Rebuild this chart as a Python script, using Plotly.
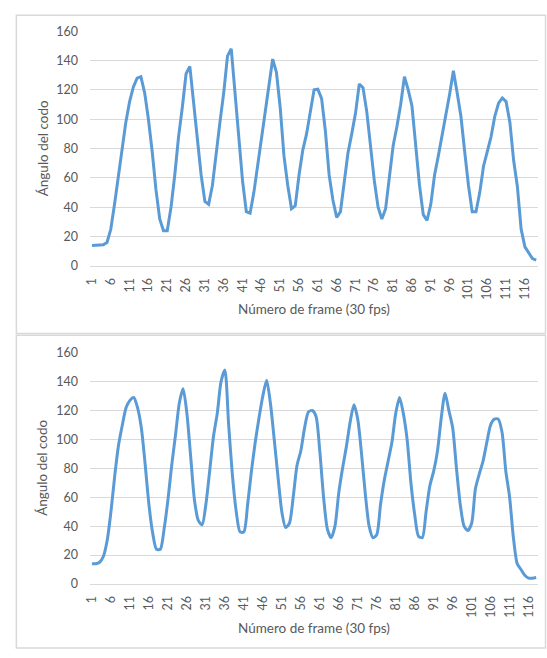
import plotly.graph_objects as go

W, H = 547, 658

# Top chart (raw) values, frames 1..119
top_values = [14, 14, 14, 14.5, 16, 25, 42, 60, 80, 98,
              112, 122, 128, 129, 118, 100, 78, 52, 32, 24,
              24, 40, 62, 88, 108, 131, 136, 112, 88, 62,
              44, 42, 55, 78, 98, 118, 143, 148, 118, 82,
              58, 37, 36, 50, 68, 88, 105, 124, 141, 132,
              108, 75, 55, 39, 41, 62, 79, 90, 105, 120,
              120.5, 114, 92, 62, 45, 33, 37, 58, 77, 90,
              104, 124, 121.5, 105, 82, 58, 40, 32, 39, 60,
              82, 95, 110, 129, 120, 109, 82, 55, 35, 31,
              42, 62, 75, 88, 103, 117, 133, 118, 102, 78,
              55, 37, 37, 50, 68, 78, 88, 102, 111, 114.5,
              112, 98, 72, 54, 25, 13, 9, 5, 4]

# Bottom chart (smoothed) values, frames 1..118
bottom_values = [14, 14, 15, 19, 30, 50, 75, 96, 110, 122,
                 127, 129, 122, 108, 83, 55, 35, 24, 24, 38,
                 58, 82, 103, 125, 135, 118, 88, 58, 44, 41,
                 55, 78, 102, 118, 140, 148, 110, 75, 50, 36,
                 36, 55, 78, 98, 115, 130, 141, 125, 100, 74,
                 50, 39, 42, 60, 82, 92, 108, 119, 120, 116,
                 92, 60, 38, 32, 40, 63, 80, 95, 112, 124,
                 114, 90, 62, 40, 32, 34, 55, 72, 85, 98,
                 118, 129, 118, 100, 70, 48, 33, 32, 50, 68,
                 78, 92, 115, 132, 120, 108, 80, 55, 40, 37,
                 42, 66, 76, 85, 98, 110, 114, 114, 105, 78,
                 60, 32, 14, 10, 6, 4, 4, 4.5]

top_frames = list(range(1, len(top_values) + 1))
bottom_frames = list(range(1, len(bottom_values) + 1))

x_ticks = list(range(1, 117, 5))
y_ticks = list(range(0, 161, 20))

x_title = "Número de frame (30 fps)"
y_title = "Ángulo del codo"

LINE = "#5b9bd5"
GRID = "#d9d9d9"
TXT = "#595959"
FONT = "Lato"

fig = go.Figure()
fig.add_trace(go.Scatter(x=top_frames, y=top_values, mode="lines",
                         line=dict(color=LINE, width=3), xaxis="x", yaxis="y",
                         showlegend=False, hoverinfo="skip"))
fig.add_trace(go.Scatter(x=bottom_frames, y=bottom_values, mode="lines",
                         line=dict(color=LINE, width=3, shape="spline", smoothing=0.7),
                         xaxis="x2", yaxis="y2", showlegend=False, hoverinfo="skip"))

def px_x(p):
    return p / W

def px_y(p):
    return 1 - p / H

xd = [px_x(85), px_x(538)]
top_dom = [px_y(264), px_y(23.7)]
bot_dom = [px_y(589.4), px_y(352.7)]

common_x = dict(tickvals=x_ticks, ticktext=[str(v) for v in x_ticks], tickangle=-90,
                showgrid=False, zeroline=False, showline=True, linecolor=GRID, linewidth=1,
                ticks="", tickfont=dict(family=FONT, size=12.5, color=TXT), ticklabelstandoff=6,
                fixedrange=True)
common_y = dict(range=[0, 160], tickvals=y_ticks, showgrid=True, gridcolor=GRID, gridwidth=1,
                zeroline=False, showline=False, ticks="",
                tickfont=dict(family=FONT, size=12.5, color=TXT), ticklabelstandoff=11,
                fixedrange=True)

fig.update_layout(
    width=W, height=H,
    margin=dict(l=0, r=0, t=0, b=0),
    paper_bgcolor="white", plot_bgcolor="white",
    xaxis=dict(domain=xd, range=[0.5, len(top_values) + 0.5], anchor="y", **common_x),
    yaxis=dict(domain=top_dom, anchor="x", **common_y),
    xaxis2=dict(domain=xd, range=[0.5, len(bottom_values) + 0.5], anchor="y2", **common_x),
    yaxis2=dict(domain=bot_dom, anchor="x2", **common_y),
    shapes=[
        dict(type="rect", xref="paper", yref="paper",
             x0=px_x(10.5), x1=px_x(545.5), y0=px_y(333), y1=px_y(7.5),
             line=dict(color=GRID, width=1.5), fillcolor="rgba(0,0,0,0)", layer="below"),
        dict(type="rect", xref="paper", yref="paper",
             x0=px_x(10.5), x1=px_x(545.5), y0=px_y(655), y1=px_y(335),
             line=dict(color=GRID, width=1.5), fillcolor="rgba(0,0,0,0)", layer="below"),
    ],
    annotations=[
        dict(text=y_title, xref="paper", yref="paper", x=px_x(37), y=px_y(144),
             textangle=-90, showarrow=False, font=dict(family=FONT, size=13.5, color=TXT),
             xanchor="center", yanchor="middle"),
        dict(text=x_title, xref="paper", yref="paper", x=px_x(311.5), y=px_y(308),
             showarrow=False, font=dict(family=FONT, size=13.5, color=TXT),
             xanchor="center", yanchor="middle"),
        dict(text=y_title, xref="paper", yref="paper", x=px_x(37), y=px_y(471),
             textangle=-90, showarrow=False, font=dict(family=FONT, size=13.5, color=TXT),
             xanchor="center", yanchor="middle"),
        dict(text=x_title, xref="paper", yref="paper", x=px_x(311.5), y=px_y(634),
             showarrow=False, font=dict(family=FONT, size=13.5, color=TXT),
             xanchor="center", yanchor="middle"),
    ],
)

fig.write_html("out.html", config={"displayModeBar": False},
               post_script="document.body.style.margin='0';document.body.style.overflow='hidden';")
